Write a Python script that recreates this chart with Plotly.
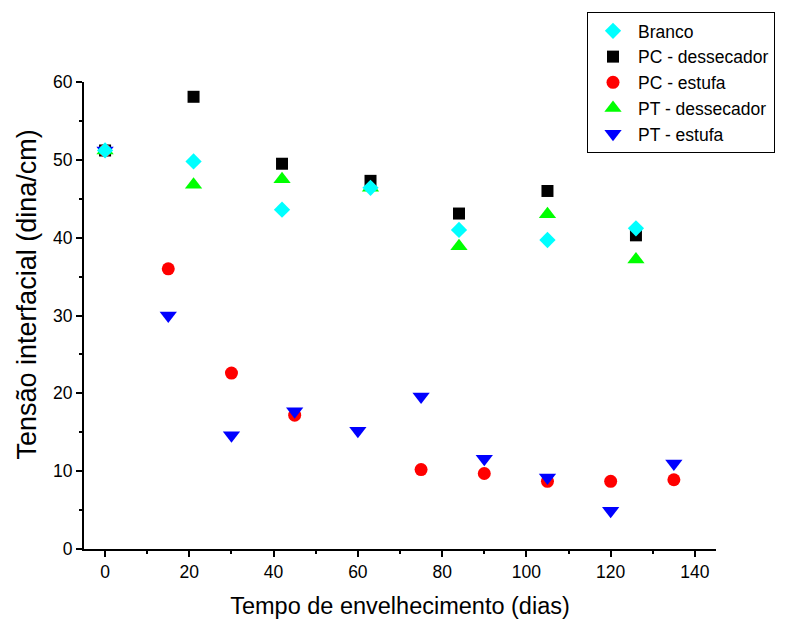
import plotly.graph_objects as go

# Data
x_desiccator = [0, 21, 42, 63, 84, 105, 126]
branco = [51.2, 49.8, 43.6, 46.4, 41.0, 39.7, 41.2]
pc_dessecador = [51.2, 58.1, 49.5, 47.3, 43.1, 46.0, 40.3]
pt_dessecador = [51.2, 46.8, 47.5, 46.4, 38.9, 43.0, 37.2]

x_pc_estufa = [0, 15, 30, 45, 75, 90, 105, 120, 135]
pc_estufa = [51.2, 36.0, 22.6, 17.2, 10.2, 9.7, 8.7, 8.7, 8.9]

x_pt_estufa = [0, 15, 30, 45, 60, 75, 90, 105, 120, 135]
pt_estufa = [51.2, 30.0, 14.6, 17.7, 15.2, 19.6, 11.6, 9.2, 4.9, 11.0]

x_ticks = [0, 20, 40, 60, 80, 100, 120, 140]
x_minor = [10, 30, 50, 70, 90, 110, 130]
y_ticks = [0, 10, 20, 30, 40, 50, 60]
y_minor = [5, 15, 25, 35, 45, 55]

FONT = "Arial, 'Liberation Sans', sans-serif"

fig = go.Figure()

def add(name, x, y, symbol, color, size, rank):
    fig.add_trace(go.Scatter(
        x=x, y=y, mode="markers", name=name, legendrank=rank,
        marker=dict(symbol=symbol, color=color, size=size, line=dict(width=0)),
    ))

add("PC - dessecador", x_desiccator, pc_dessecador, "square", "#000000", 12, 2)
add("PC - estufa", x_pc_estufa, pc_estufa, "circle", "#ff0000", 13, 3)
add("PT - dessecador", x_desiccator, pt_dessecador, "triangle-up", "#00ff00", 15, 4)
add("PT - estufa", x_pt_estufa, pt_estufa, "triangle-down", "#0000ff", 15, 5)
add("Branco", x_desiccator, branco, "diamond", "#00ffff", 12.5, 1)

axis_common = dict(
    showline=True, linecolor="black", linewidth=2,
    ticks="outside", ticklen=6, tickwidth=1.5, tickcolor="black",
    showgrid=False, zeroline=False, mirror=False,
    tickfont=dict(family=FONT, size=17.5, color="black"),
)

fig.update_layout(
    width=787, height=621,
    margin=dict(l=76, r=79, t=74, b=80, autoexpand=False),
    paper_bgcolor="white", plot_bgcolor="white",
    font=dict(family=FONT, color="black"),
    xaxis=dict(
        range=[-5, 145], tickvals=x_ticks,
        minor=dict(tickvals=x_minor, ticklen=3, tickwidth=1.5,
                   tickcolor="black", ticks="outside", showgrid=False),
        title=dict(text="Tempo de envelhecimento (dias)",
                   font=dict(family=FONT, size=23.5, color="black"), standoff=17),
        **axis_common,
    ),
    yaxis=dict(
        range=[0, 60], tickvals=y_ticks,
        minor=dict(tickvals=y_minor, ticklen=3, tickwidth=1.5,
                   tickcolor="black", ticks="outside", showgrid=False),
        **axis_common,
    ),
    annotations=[dict(
        text="Tensão interfacial (dina/cm)", textangle=-90,
        xref="paper", yref="paper", x=-0.0902, y=0.545,
        xanchor="center", yanchor="middle", showarrow=False,
        font=dict(family=FONT, size=27, color="black"),
    )],
    legend=dict(
        x=0.7959, y=1.1499, xanchor="left", yanchor="top",
        bordercolor="black", borderwidth=1, bgcolor="white",
        font=dict(family=FONT, size=17.5, color="black"),
        itemwidth=40, tracegroupgap=0,
    ),
    showlegend=True,
)

fig.write_html("out.html")
